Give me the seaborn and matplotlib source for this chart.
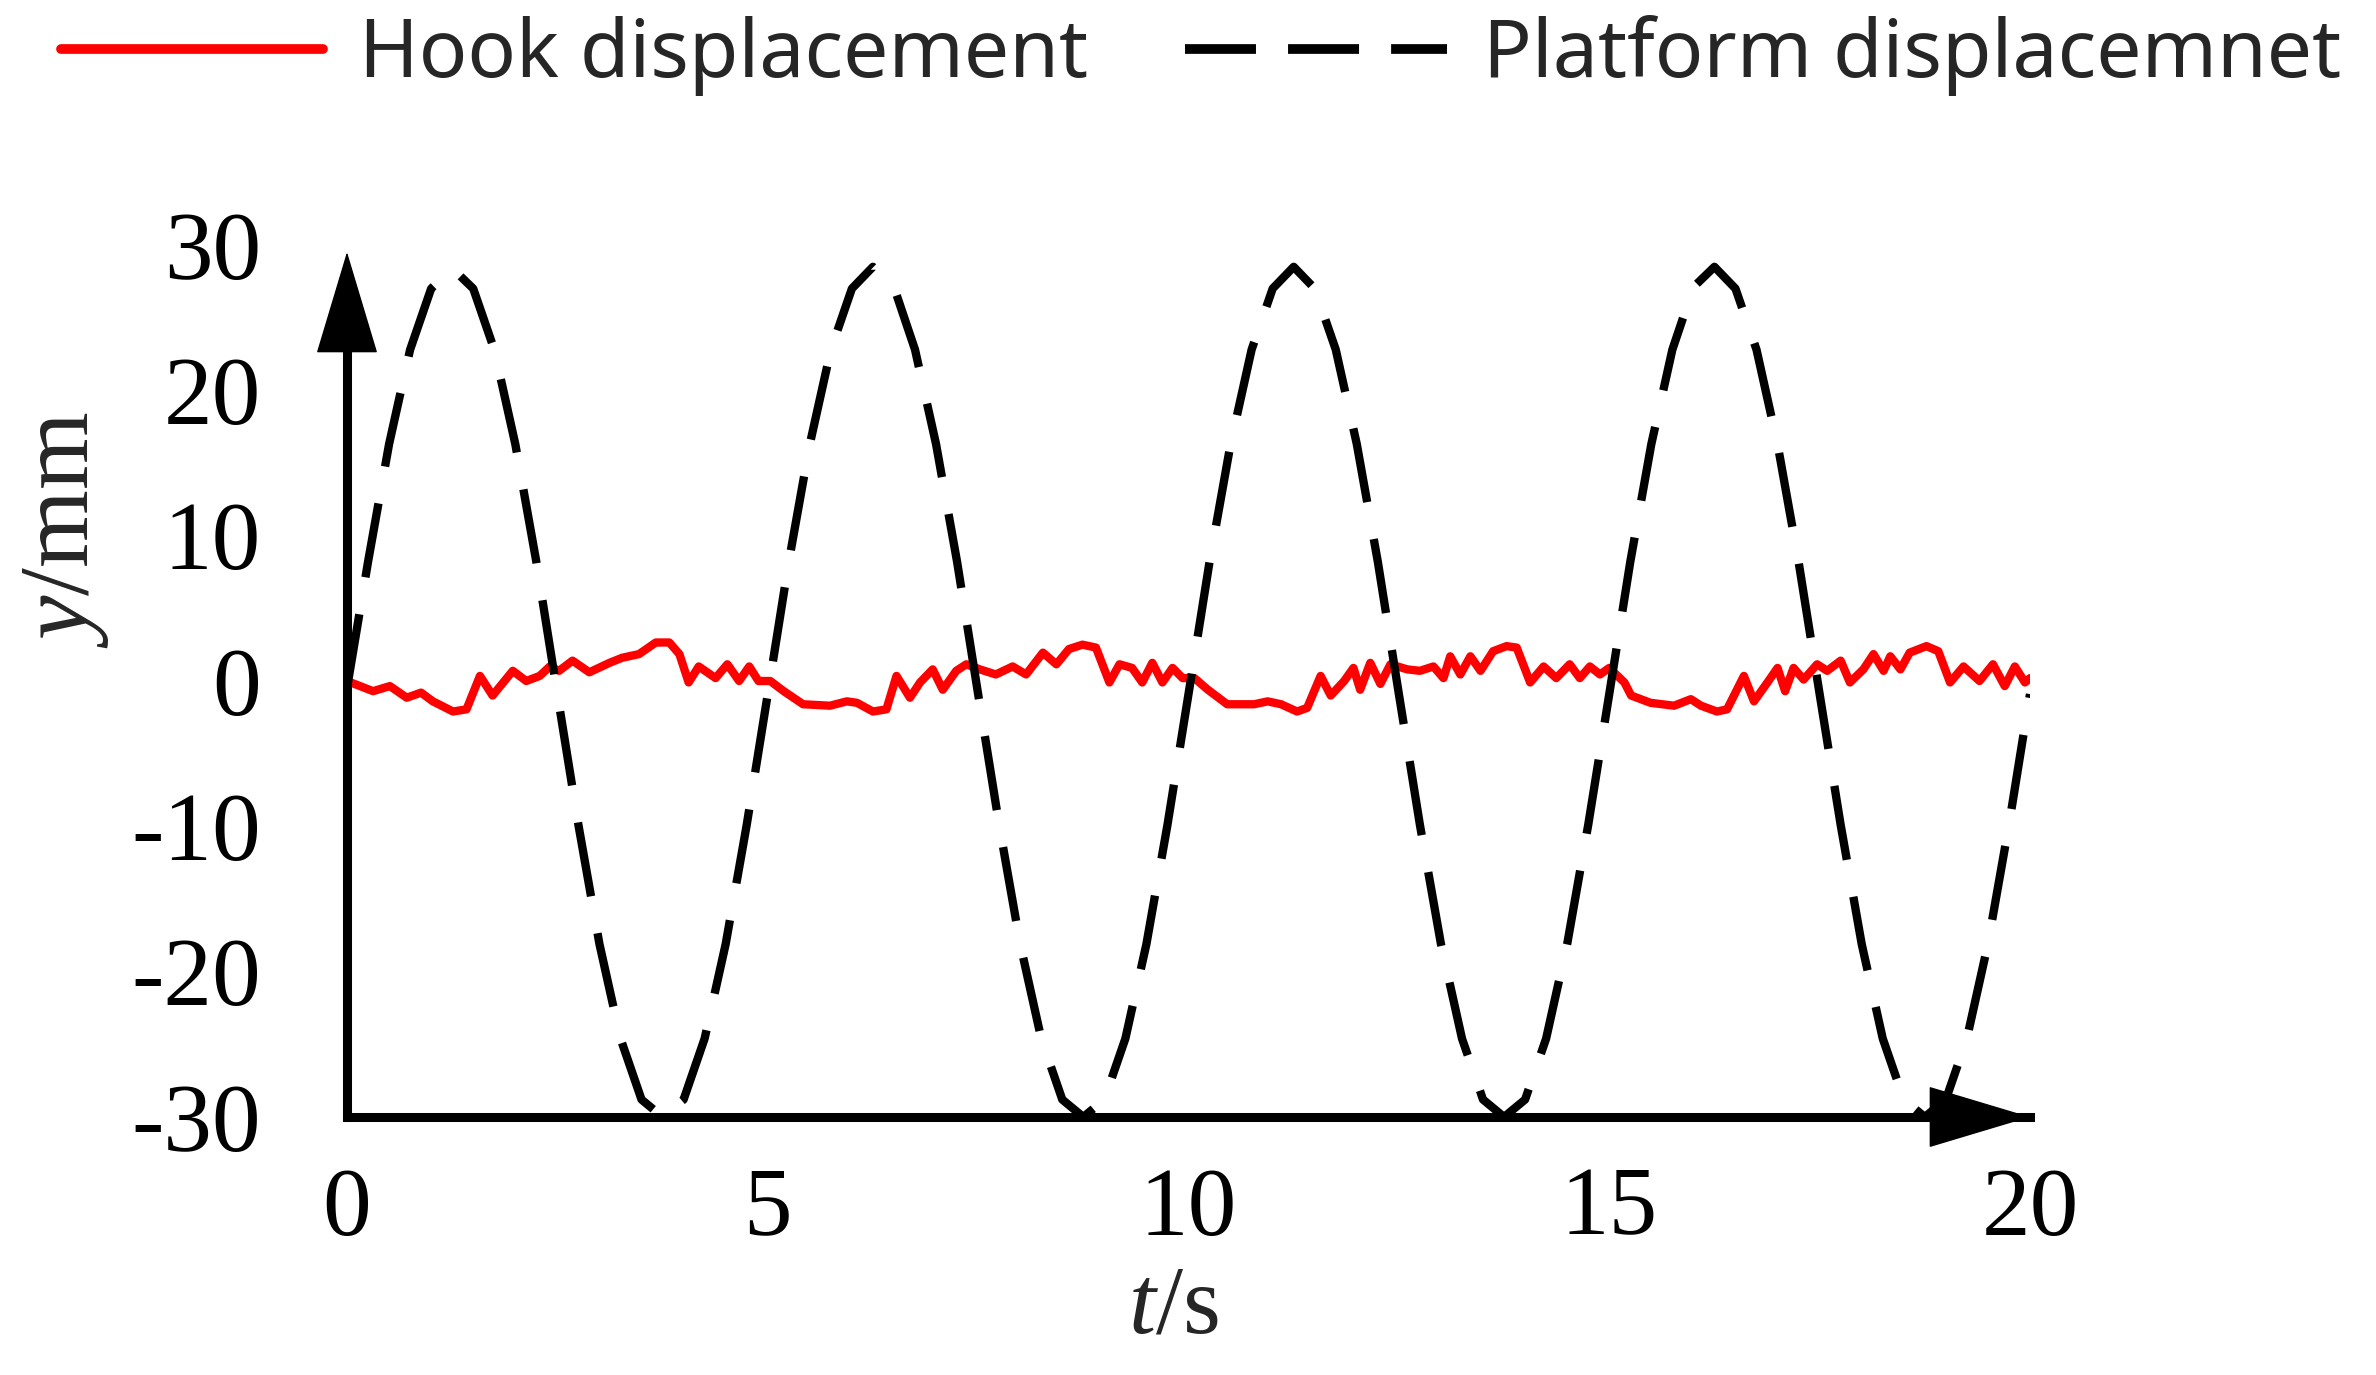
import numpy as np
import pandas as pd
import matplotlib
matplotlib.use("Agg")
import matplotlib.pyplot as plt
import seaborn as sns
from matplotlib.lines import Line2D
from matplotlib.patches import FancyArrowPatch

# ===== DATA =====
# hook displacement (red, noisy), t in s, y in mm
hook_t = [0.00, 0.31, 0.51, 0.71, 0.88, 1.02, 1.26, 1.42, 1.58, 1.73, 1.97, 2.13, 2.29, 2.41,
          2.52, 2.68, 2.88, 3.12, 3.27, 3.47, 3.67, 3.83, 3.95, 4.06, 4.18, 4.38, 4.52, 4.66,
          4.78, 4.89, 5.03, 5.19, 5.42, 5.74, 5.94, 6.06, 6.25, 6.41, 6.53, 6.69, 6.81, 6.96,
          7.08, 7.24, 7.36, 7.52, 7.71, 7.91, 8.07, 8.27, 8.43, 8.58, 8.74, 8.90, 9.06, 9.18,
          9.33, 9.45, 9.57, 9.69, 9.81, 9.93, 10.07, 10.23, 10.46, 10.78, 10.94, 11.10, 11.29,
          11.41, 11.57, 11.69, 11.85, 11.96, 12.04, 12.16, 12.28, 12.40, 12.60, 12.75, 12.91,
          13.03, 13.11, 13.23, 13.35, 13.47, 13.62, 13.78, 13.90, 14.06, 14.22, 14.37, 14.53,
          14.65, 14.77, 14.89, 15.00, 15.18, 15.26, 15.49, 15.77, 15.97, 16.09, 16.28, 16.40,
          16.60, 16.72, 16.88, 17.00, 17.09, 17.19, 17.31, 17.47, 17.59, 17.75, 17.86, 18.02,
          18.14, 18.26, 18.34, 18.46, 18.57, 18.77, 18.91, 19.05, 19.21, 19.40, 19.56, 19.70,
          19.82, 19.94, 20.00]
hook_y = [0.0, -0.7, -0.35, -1.15, -0.8, -1.4, -2.1, -1.95, 0.35, -1.0, 0.7, 0.0, 0.35, 1.0,
          0.7, 1.4, 0.6, 1.25, 1.6, 1.85, 2.65, 2.65, 1.85, -0.1, 1.0, 0.2, 1.15, 0.0,
          1.0, 0.0, 0.0, -0.7, -1.6, -1.7, -1.4, -1.5, -2.1, -1.95, 0.35, -1.15, -0.1, 0.8,
          -0.6, 0.7, 1.15, 0.8, 0.45, 1.0, 0.45, 1.95, 1.15, 2.2, 2.5, 2.3, -0.1, 1.15,
          0.9, -0.1, 1.25, -0.1, 0.9, 0.2, 0.2, -0.6, -1.6, -1.6, -1.4, -1.6, -2.1,
          -1.85, 0.35, -1.0, 0.0, 0.9, -0.6, 1.25, -0.2, 1.15, 0.8, 0.7, 1.0,
          0.2, 1.7, 0.45, 1.7, 0.7, 2.05, 2.4, 2.3, -0.1, 1.0, 0.2, 1.15,
          0.2, 1.0, 0.45, 0.9, -0.1, -1.0, -1.5, -1.7, -1.25, -1.7, -2.1, -1.95,
          0.35, -1.4, -0.1, 0.9, -0.7, 0.9, 0.1, 1.15, 0.7, 1.4, -0.1, 0.8,
          1.85, 0.7, 1.7, 0.8, 1.95, 2.4, 2.05, -0.1, 1.0, 0.0, 1.15, -0.35,
          1.0, -0.1, 0.2]

# platform displacement (black dashed), sampled every 0.25 s
plat_t = np.linspace(0, 20, 81)
plat_y = [-0.5, 8.2, 16.3, 22.8, 27.0, 28.4, 27.0, 22.8, 16.3, 8.2,
          -0.9, -9.9, -18.1, -24.6, -28.8, -30.0, -28.8, -24.6, -18.1, -9.9,
          -0.9, 8.2, 16.3, 22.8, 27.0, 28.5, 27.1, 22.8, 16.3, 8.2,
          -0.9, -9.9, -18.1, -24.6, -28.8, -30.0, -28.8, -24.6, -18.1, -9.9,
          -0.9, 8.2, 16.3, 22.8, 27.0, 28.5, 27.0, 22.8, 16.3, 8.2,
          -0.9, -9.9, -18.1, -24.6, -28.8, -30.0, -28.8, -24.6, -18.1, -9.9,
          -0.9, 8.2, 16.3, 22.8, 27.1, 28.5, 27.0, 22.8, 16.3, 8.2,
          -0.9, -9.9, -18.1, -24.6, -28.8, -30.0, -28.8, -24.6, -18.1, -9.9,
          -0.9]

x_ticks = [0, 5, 10, 15, 20]
y_ticks = [-30, -20, -10, 0, 10, 20, 30]
y_tick_labels = ["-30", "-20", "-10", "0", "10", "20", "30"]
legend_labels = ["Hook displacement", "Platform displacemnet"]

# ===== STYLE =====
sns.set_style("white")
plt.rcParams["font.family"] = ["Liberation Serif", "DejaVu Serif"]
plt.rcParams["axes.unicode_minus"] = False
plt.rcParams["mathtext.fontset"] = "custom"
plt.rcParams["mathtext.it"] = "Liberation Serif:italic"
plt.rcParams["mathtext.rm"] = "Liberation Serif"

W, H = 2376, 1375
fig = plt.figure(figsize=(W / 100, H / 100), dpi=100)
ax = fig.add_axes([347 / W, 1 - 1117 / H, (2030 - 347) / W, (1117 - 245) / H])

df_hook = pd.DataFrame({"t": hook_t, "y": hook_y})
df_plat = pd.DataFrame({"t": plat_t, "y": plat_y})

sns.lineplot(data=df_hook, x="t", y="y", color="#ff0000", ax=ax,
             estimator=None, sort=False)
sns.lineplot(data=df_plat, x="t", y="y", color="black", ax=ax,
             estimator=None, sort=False)
ax.lines[0].set_linewidth(6)
ax.lines[1].set_linewidth(6)
ax.lines[1].set_dashes([9.0, 4.5])

ax.set_xlim(0, 20)
ax.set_ylim(-30, 30)
ax.set_xticks(x_ticks)
ax.set_yticks(y_ticks)
ax.set_yticklabels(y_tick_labels)

# spines: only left and bottom, with arrow heads
for s in ["top", "right"]:
    ax.spines[s].set_visible(False)
for s in ["left", "bottom"]:
    ax.spines[s].set_linewidth(6.5)
    ax.spines[s].set_color("black")
ax.spines["left"].set_bounds(-30, 24)

ax.tick_params(axis="both", direction="in", length=20, width=5.5, colors="black",
               labelsize=70)
ax.tick_params(axis="y", pad=62)
ax.tick_params(axis="x", pad=36)

for posA, posB in [((0, 0.86), (0, 0.992)), ((0.9, 0), (1.0, 0))]:
    arr = FancyArrowPatch(posA, posB, transform=ax.transAxes,
                          arrowstyle="-|>,head_length=7,head_width=2.1",
                          mutation_scale=10, color="black", lw=1,
                          shrinkA=0, shrinkB=0, clip_on=False, zorder=5)
    ax.add_patch(arr)

ax.set_xlabel(r"$\mathit{t}$/s", fontsize=70)
ax.set_ylabel(r"$\mathit{y}$/mm", fontsize=72)
ax.xaxis.set_label_coords(0.491, -0.17)
ax.yaxis.set_label_coords(-0.14, 0.673)

# ===== LEGEND =====
handles = [
    Line2D([], [], color="#ff0000", lw=7),
    Line2D([], [], color="black", lw=7, dashes=[7.3, 3.3]),
]
fig.legend(handles, legend_labels, loc="center left",
           bbox_to_anchor=(61 / W, 1 - 56 / H), ncol=2, frameon=False,
           prop={"family": ["Noto Sans", "DejaVu Sans"], "size": 58},
           handlelength=3.25, handletextpad=0.45, columnspacing=1.2,
           borderpad=0, borderaxespad=0)

fig.savefig("out.png", dpi=100)
